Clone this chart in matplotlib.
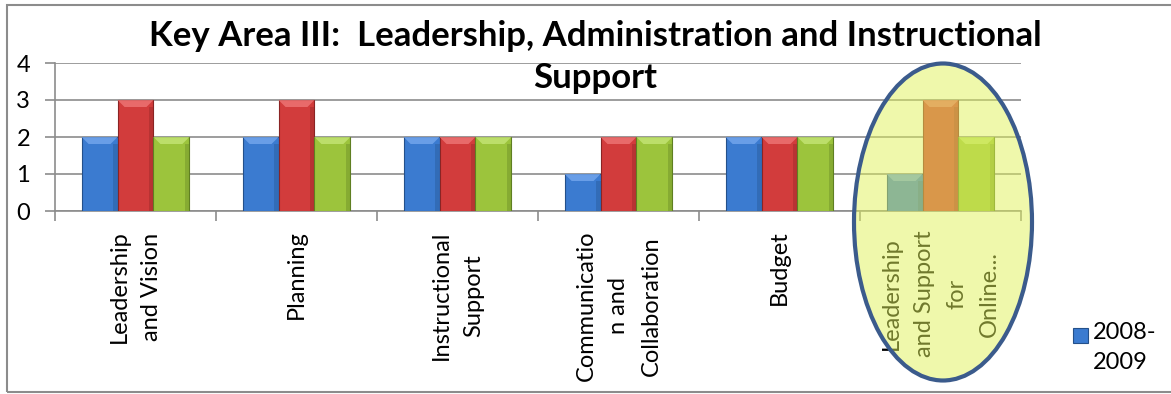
import matplotlib
matplotlib.use("Agg")
import matplotlib.pyplot as plt
import numpy as np
from matplotlib.patches import Ellipse, Rectangle, Polygon

categories = ["Leadership\nand Vision", "Planning", "Instructional\nSupport",
              "Communicatio\nn and\nCollaboration", "Budget",
              "Leadership\nand Support\nfor\nOnline..."]
series_2008_2009 = [2, 2, 2, 1, 2, 1]
series_b = [3, 3, 2, 2, 2, 3]
series_c = [2, 2, 2, 2, 2, 2]
legend_label = "2008-\n2009"
title = "Key Area III:  Leadership, Administration and Instructional\nSupport"
yticks = [0, 1, 2, 3, 4]

plt.rcParams['font.family'] = ['Lato', 'DejaVu Sans']

W, H = 1171, 394
fig = plt.figure(figsize=(W / 100, H / 100), dpi=100)
ax = fig.add_axes([55 / W, (H - 211) / H, (1021 - 55) / W, (211 - 63) / H])

x = np.arange(len(categories))
bw = 0.223
colors = ['#3b7bd0', '#d23c3c', '#9cc43c']
lights = ['#79aaf0', '#f07a7a', '#c8e87a']
edges = ['#24508a', '#8a2424', '#5f7f22']
ax.set_xlim(-0.5, len(categories) - 0.5)
ax.set_ylim(0, 4)

# bevel size in data units (about 7 px)
bev_y = 7 / 37.0
bev_x = 7 / 161.0
for i, (vals, c, l, e) in enumerate(zip([series_2008_2009, series_b, series_c],
                                         colors, lights, edges)):
    bars = ax.bar(x + (i - 1) * bw, vals, width=bw, color=c, edgecolor=e,
                  linewidth=0.8, zorder=3)
    for p in bars:
        x0, w, top = p.get_x(), p.get_width(), p.get_height()
        ax.add_patch(Polygon([(x0, top), (x0 + w, top), (x0 + w - bev_x, top - bev_y),
                              (x0 + bev_x, top - bev_y)], closed=True,
                             facecolor=l, edgecolor='none', alpha=0.75, zorder=4))
        ax.add_patch(Rectangle((x0 + w - bev_x * 0.6, 0), bev_x * 0.6, top - bev_y,
                               facecolor=e, edgecolor='none', alpha=0.35, zorder=4))

ax.set_yticks(yticks)
ax.set_yticklabels([str(v) for v in yticks], fontsize=17)
ax.yaxis.grid(True, color='#8c8c8c', linewidth=1.2, zorder=0)
ax.set_axisbelow(True)
for s in ['top', 'right']:
    ax.spines[s].set_visible(False)
for s in ['left', 'bottom']:
    ax.spines[s].set_color('#8c8c8c')
    ax.spines[s].set_linewidth(1.2)
ax.tick_params(axis='y', length=7, color='#8c8c8c', width=1.2, pad=11)
ax.set_xticks(np.arange(len(categories) + 1) - 0.5)
ax.set_xticklabels([])
ax.tick_params(axis='x', length=7, color='#8c8c8c', width=1.2)
ax.set_xticks(x, minor=True)
ax.set_xticklabels(categories, minor=True, rotation=90, fontsize=17,
                   va='top', ha='center', multialignment='center', linespacing=1.68)
ax.tick_params(axis='x', which='minor', length=0, pad=14)

fig.text(595 / W, 1 - 20 / H, title, ha='center', va='top', fontsize=25,
         fontweight='bold', linespacing=1.4)

# legend (only the first series is visible in the reference)
fig.add_artist(Rectangle((1073 / W, 1 - 343 / H), 15 / W, 15 / H, transform=fig.transFigure,
                         facecolor=colors[0], edgecolor=edges[0], linewidth=0.8))
fig.text(1093 / W, 1 - 322 / H, legend_label, ha='left', va='top', fontsize=17,
         linespacing=1.55)

# outer chart border
fig.add_artist(Rectangle((7 / W, 2 / H), 1.1, (392 - 5) / H, transform=fig.transFigure,
                         fill=False, edgecolor='#8c8c8c', linewidth=1.5))

# highlight ellipse overlay
ell = Ellipse((943 / W, 1 - 222 / H), 178 / W, 317 / H, transform=fig.transFigure,
              facecolor=(0.88, 0.95, 0.35, 0.5), edgecolor='#3b5b8c', linewidth=3, zorder=10)
fig.add_artist(ell)

fig.savefig("out.png", dpi=100)
